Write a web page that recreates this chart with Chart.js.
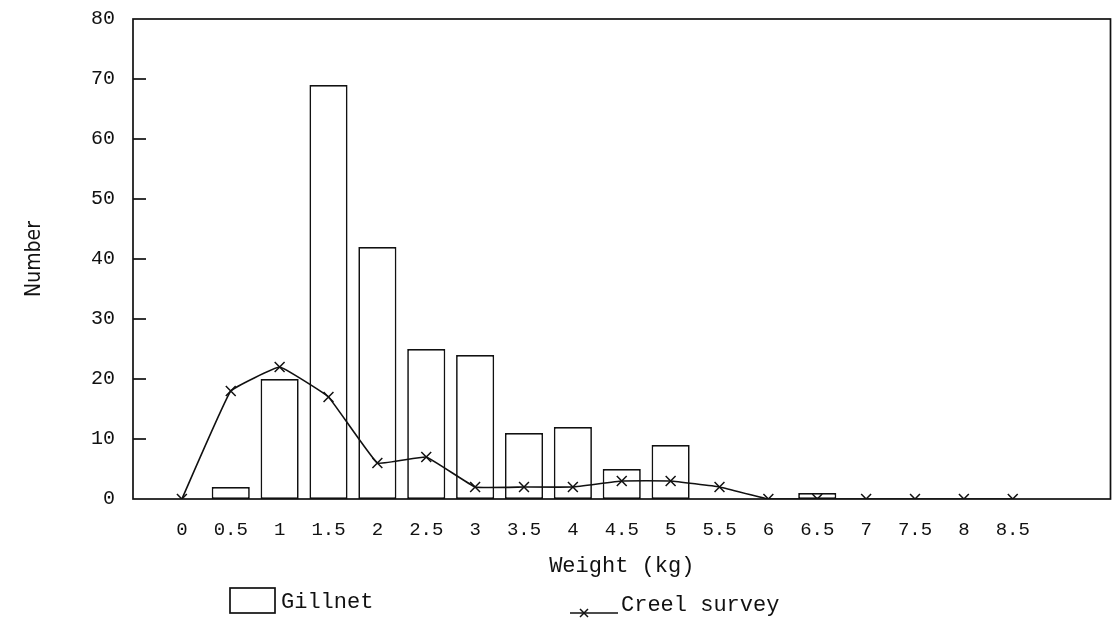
<!DOCTYPE html>
<html>
<head>
<meta charset="utf-8">
<title>Weight distribution</title>
<script src="https://cdn.jsdelivr.net/npm/chart.js@4/dist/chart.umd.min.js"></script>
<style>
  html, body { margin: 0; padding: 0; background: #fff; overflow: hidden; }
  #wrap { width: 1112px; height: 626px; overflow: hidden; }
</style>
</head>
<body>
<div id="wrap"><canvas id="chart" width="1119" height="626"></canvas></div>
<script>
// weight classes (kg); blank slots pad the axis on both ends
const weightClasses = ['', '0', '0.5', '1', '1.5', '2', '2.5', '3', '3.5', '4', '4.5',
    '5', '5.5', '6', '6.5', '7', '7.5', '8', '8.5', '', ''];
const gillnet = [null, 0, 2, 20, 69, 42, 25, 24, 11, 12, 5, 9, 0, 0, 1, 0, 0, 0, 0, null, null];
const creel = [null, 0, 18, 22, 17, 6, 7, 2, 2, 2, 3, 3, 2, 0, 0, 0, 0, 0, 0, null, null];
const yTicks = [0, 10, 20, 30, 40, 50, 60, 70, 80];

const MONO = '"Liberation Mono", "DejaVu Sans Mono", monospace';
const NARROW = '"DejaVu Sans Condensed", "Liberation Sans Narrow", sans-serif';

// box round the plot, inward ticks on the y axis, and the legend below
const framePlugin = {
    id: 'frame',
    afterDraw(chart) {
        const ctx = chart.ctx;
        const a = chart.chartArea;
        const y = chart.scales.y;
        ctx.save();
        ctx.strokeStyle = '#111';
        ctx.lineWidth = 1.7;
        ctx.strokeRect(a.left, a.top, a.right - a.left, a.bottom - a.top);
        yTicks.slice(1, -1).forEach(v => {
            const py = y.getPixelForValue(v);
            ctx.beginPath();
            ctx.moveTo(a.left, py);
            ctx.lineTo(a.left + 13, py);
            ctx.stroke();
        });

        const ds = chart.data.datasets;
        ctx.font = '22px ' + MONO;
        ctx.fillStyle = '#111';
        ctx.textBaseline = 'middle';
        // bar entry
        ctx.strokeRect(230, 588, 45, 25);
        ctx.fillText(ds[1].label, 281, 602);
        // line entry
        ctx.lineWidth = 1.5;
        ctx.beginPath();
        ctx.moveTo(570, 613);
        ctx.lineTo(618, 613);
        ctx.stroke();
        ctx.beginPath();
        ctx.moveTo(580, 609); ctx.lineTo(588, 617);
        ctx.moveTo(580, 617); ctx.lineTo(588, 609);
        ctx.stroke();
        ctx.fillText(ds[0].label, 621, 605);
        ctx.restore();
    }
};

new Chart(document.getElementById('chart'), {
    type: 'bar',
    data: {
        labels: weightClasses,
        datasets: [
            {
                type: 'line',
                label: 'Creel survey',
                data: creel,
                order: 0,
                borderColor: '#111',
                borderWidth: 1.6,
                tension: 0.08,
                pointStyle: 'crossRot',
                pointRadius: 7,
                pointBorderWidth: 1.5,
                pointBorderColor: '#111',
                fill: false
            },
            {
                type: 'bar',
                label: 'Gillnet',
                data: gillnet,
                order: 1,
                backgroundColor: '#fff',
                borderColor: '#111',
                borderWidth: 1.7,
                borderSkipped: false,
                categoryPercentage: 1,
                barPercentage: 0.78
            }
        ]
    },
    options: {
        responsive: false,
        animation: false,
        devicePixelRatio: 1,
        layout: { padding: { top: 19, right: 2, left: 0, bottom: 0 } },
        plugins: { legend: { display: false }, tooltip: { enabled: false } },
        scales: {
            x: {
                offset: false,
                grid: { display: false, drawTicks: false },
                border: { display: false },
                ticks: {
                    color: '#111',
                    padding: 20,
                    maxRotation: 0,
                    autoSkip: false,
                    font: { family: MONO, size: 19 }
                },
                title: {
                    display: true,
                    text: 'Weight (kg)',
                    color: '#111',
                    font: { family: MONO, size: 22 },
                    padding: { top: 0, bottom: 47 }
                },
                afterFit(scale) {
                    scale.height = 127;
                    scale.paddingLeft = 0;
                    scale.paddingRight = 0;
                }
            },
            y: {
                min: 0,
                max: 80,
                grid: { display: false, drawTicks: false },
                border: { display: false },
                afterBuildTicks(scale) { scale.ticks = yTicks.map(v => ({ value: v })); },
                ticks: {
                    color: '#111',
                    padding: 18,
                    font: { family: MONO, size: 20 }
                },
                title: {
                    display: true,
                    text: 'Number',
                    color: '#111',
                    font: { family: NARROW, size: 21 },
                    padding: { top: 22, bottom: 0 }
                },
                afterFit(scale) {
                    scale.width = 133;
                    scale.paddingTop = 0;
                    scale.paddingBottom = 0;
                }
            }
        }
    },
    plugins: [framePlugin]
});
</script>
</body>
</html>
